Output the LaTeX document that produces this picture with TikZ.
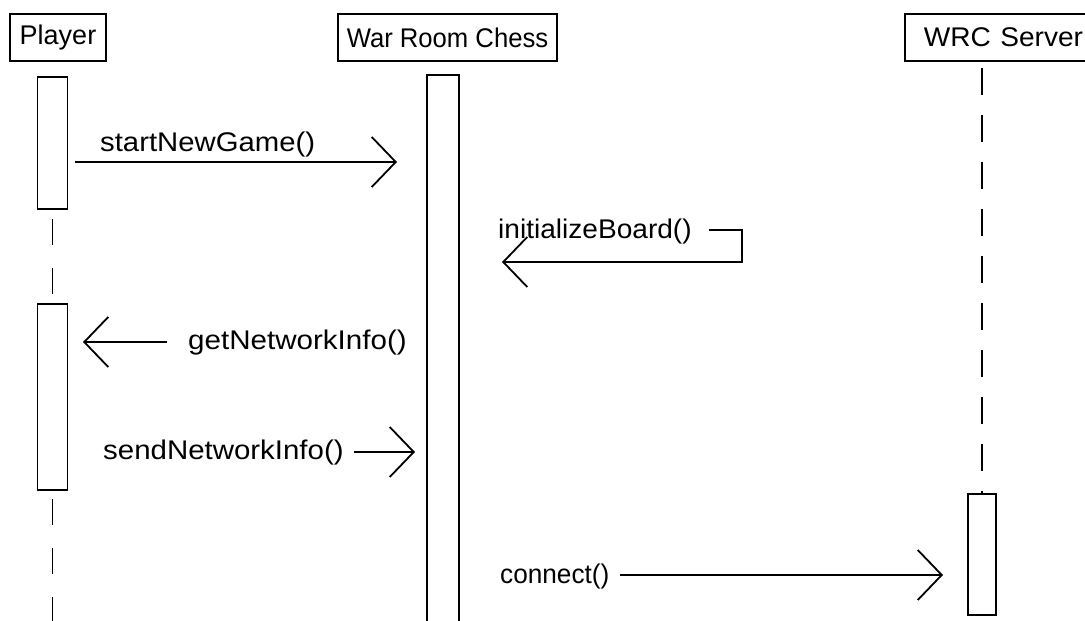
\documentclass[tikz,border=0pt]{standalone}
\usepackage{fontspec}
\usepackage{graphicx}
\setmainfont{Liberation Sans}
\usetikzlibrary{arrows.meta}
\begin{document}
\begin{tikzpicture}[x=1pt,y=-1pt,
  every node/.style={font=\fontsize{27}{32}\selectfont, inner sep=0pt},
  hdr/.style={draw, line width=1.8pt, minimum height=47pt},
  act/.style={draw, line width=1.8pt, fill=white},
  lifeA/.style={line width=1.8pt, dash pattern=on 26pt off 23pt},
  lifeB/.style={line width=1.8pt, dash pattern=on 27pt off 20pt},
  msg/.style={line width=1.8pt, -{Straight Barb[length=24pt,width=50pt,line width=1.8pt]}},
  lbl/.style={anchor=west}]
\useasboundingbox (0,0) rectangle (1085,621);
\clip (0,0) rectangle (1085,621);
\fill[white] (0,0) rectangle (1085,621);

% headers
\node[hdr, minimum width=96pt] (player) at (58,37.5) {Player};
\node[hdr, minimum width=219pt] (wrchess) at (447.5,37.5) {\scalebox{0.95}[1]{War Room Chess}};
\node[hdr, anchor=west, inner xsep=19pt, text width=178pt] (wrc) at (904,37.5) {\scalebox{1.04}[1]{WRC Server}};

% activations
\node[act, minimum width=30pt, minimum height=132pt] (pa1) at (52.5,143) {};
\node[act, minimum width=30pt, minimum height=186pt] (pa2) at (52.5,397) {};
\node[act, minimum width=32pt, minimum height=565pt] (wa) at (443,357.5) {};
\node[act, minimum width=28pt, minimum height=121pt] (sa) at (982,554.5) {};
\coordinate (pend) at (52.5,640);

% lifelines
\draw[lifeA, dash phase=40pt] (pa1.south) -- (pa2.north);
\draw[lifeA, dash phase=41pt] (pa2.south) -- (pend);
\draw[lifeB, shorten <=6pt] (sa.north |- wrc.south) -- (sa.north);

% startNewGame
\coordinate (m1s) at (75,162);
\coordinate (m1e) at (397,162);
\draw[msg] (m1s) -- (m1e);
\node[lbl] (l1) at (100,145) {\scalebox{1.085}[1]{startNewGame()}};

% initializeBoard
\coordinate (m2s) at (709,230);
\coordinate (m2c) at (742,262);
\coordinate (m2e) at (502,262);
\draw[msg] (m2s) -| (m2c) -- (m2e);
\node[lbl] (l2) at (498,232) {\scalebox{1.04}[1]{initializeBoard()}};

% getNetworkInfo
\coordinate (m3s) at (167,342);
\coordinate (m3e) at (83,342);
\draw[msg] (m3s) -- (m3e);
\node[lbl] (l3) at (188,343) {\scalebox{1.095}[1]{getNetworkInfo()}};

% sendNetworkInfo
\coordinate (m4s) at (354,452);
\coordinate (m4e) at (415,452);
\draw[msg] (m4s) -- (m4e);
\node[lbl] (l4) at (103,453) {\scalebox{1.09}[1]{sendNetworkInfo()}};

% connect
\coordinate (m5s) at (620,575);
\coordinate (m5e) at (943,575);
\draw[msg] (m5s) -- (m5e);
\node[lbl] (l5) at (500,577) {\scalebox{0.97}[1]{connect()}};
\end{tikzpicture}
\end{document}
